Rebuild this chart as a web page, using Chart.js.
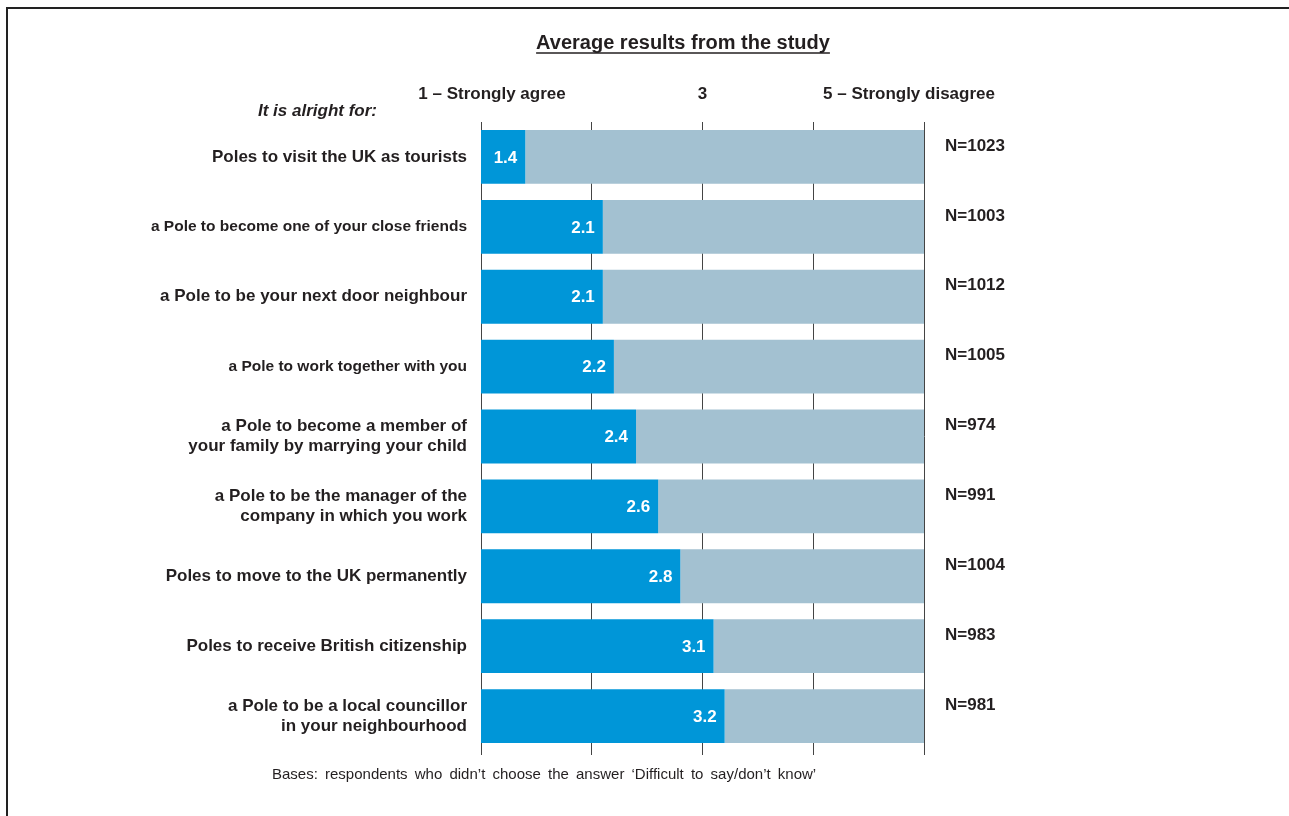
<!DOCTYPE html>
<html>
<head>
<meta charset="utf-8">
<script src="https://cdn.jsdelivr.net/npm/chart.js@4"></script>
<style>
    html, body { margin: 0; padding: 0; background: #fff; }
    #frame {
        position: absolute;
        left: 6px;
        top: 7px;
        width: 1283px;
        height: 809px;
        border-left: 2px solid #222;
        border-top: 2px solid #222;
    }
    #wrap { position: absolute; left: 0; top: 0; width: 1289px; height: 816px; }
</style>
</head>
<body>
<div id="frame"></div>
<div id="wrap"><canvas id="chart"></canvas></div>
<script>
const categories = [
    "Poles to visit the UK as tourists",
    "a Pole to become one of your close friends",
    "a Pole to be your next door neighbour",
    "a Pole to work together with you",
    ["a Pole to become a member of", "your family by marrying your child"],
    ["a Pole to be the manager of the", "company in which you work"],
    "Poles to move to the UK permanently",
    "Poles to receive British citizenship",
    ["a Pole to be a local councillor", "in your neighbourhood"]
];
const averages = [1.4, 2.1, 2.1, 2.2, 2.4, 2.6, 2.8, 3.1, 3.2];
const sampleSizes = [1023, 1003, 1012, 1005, 974, 991, 1004, 983, 981];
const smallLabels = [1, 3];
const scaleMin = 1;
const scaleMax = 5;
const headerLabels = [
    { value: 1, text: "1 \u2013 Strongly agree", shift: 11 },
    { value: 3, text: "3", shift: 0 },
    { value: 5, text: "5 \u2013 Strongly disagree", shift: -15 }
];

const FONT = "'Liberation Sans', Arial, sans-serif";
const INK = "#231f20";

const decorations = {
    id: "decorations",
    afterDraw(chart) {
        const ctx = chart.ctx;
        const x = chart.scales.x;
        const area = chart.chartArea;
        ctx.save();

        // title, underlined
        ctx.fillStyle = INK;
        ctx.strokeStyle = INK;
        ctx.font = "bold 20px " + FONT;
        ctx.textAlign = "center";
        ctx.textBaseline = "middle";
        const title = "Average results from the study";
        const tx = 683, ty = 43;
        ctx.fillText(title, tx, ty);
        const tw = ctx.measureText(title).width;
        ctx.lineWidth = 1.5;
        ctx.beginPath();
        ctx.moveTo(tx - tw / 2, ty + 10);
        ctx.lineTo(tx + tw / 2, ty + 10);
        ctx.stroke();

        // scale header
        ctx.font = "bold 17px " + FONT;
        headerLabels.forEach(h => {
            ctx.fillText(h.text, x.getPixelForValue(h.value) + h.shift, 94);
        });

        ctx.font = "italic bold 17px " + FONT;
        ctx.textAlign = "right";
        ctx.fillText("It is alright for:", 377, 111);

        // value labels and N
        const bars = chart.getDatasetMeta(0).data;
        bars.forEach((bar, i) => {
            ctx.font = "bold 17px " + FONT;
            ctx.fillStyle = "#fff";
            ctx.textAlign = "right";
            ctx.fillText(averages[i].toFixed(1), bar.x - 8, bar.y + 1);
            ctx.fillStyle = INK;
            ctx.textAlign = "left";
            ctx.fillText("N=" + sampleSizes[i], area.right + 21, bar.y - 11);
        });

        // footnote
        ctx.font = "15px " + FONT;
        ctx.wordSpacing = "3px";
        ctx.textAlign = "left";
        ctx.fillStyle = INK;
        ctx.fillText("Bases: respondents who didn\u2019t choose the answer \u2018Difficult to say/don\u2019t know\u2019", 272, 775);
        ctx.restore();
    }
};

new Chart(document.getElementById("chart"), {
    type: "bar",
    data: {
        labels: categories,
        datasets: [
            {
                data: averages,
                backgroundColor: "#0096d8",
                barPercentage: 0.77,
                categoryPercentage: 1
            },
            {
                data: averages.map(v => scaleMax - v),
                backgroundColor: "#a3c1d1",
                barPercentage: 0.77,
                categoryPercentage: 1
            }
        ]
    },
    options: {
        indexAxis: "y",
        responsive: true,
        maintainAspectRatio: false,
        animation: false,
        layout: {
            padding: { top: 122, right: 365, bottom: 61, left: 0 }
        },
        scales: {
            x: {
                stacked: true,
                min: scaleMin,
                max: scaleMax,
                ticks: { display: false, stepSize: 1 },
                grid: {
                    color: "#444",
                    lineWidth: 1,
                    drawTicks: true,
                    tickLength: 4
                },
                border: { display: false },
                afterFit(scale) { scale.height = 4; }
            },
            y: {
                stacked: true,
                grid: { display: false },
                border: { display: false },
                ticks: {
                    color: INK,
                    padding: 6,
                    font: c => ({
                        family: FONT,
                        weight: "bold",
                        size: smallLabels.includes(c.index) ? 15.5 : 17,
                        lineHeight: 1.15
                    })
                },
                afterFit(scale) { scale.width = 481; }
            }
        },
        plugins: {
            legend: { display: false },
            tooltip: { enabled: false },
            title: { display: false }
        }
    },
    plugins: [decorations]
});
</script>
</body>
</html>
